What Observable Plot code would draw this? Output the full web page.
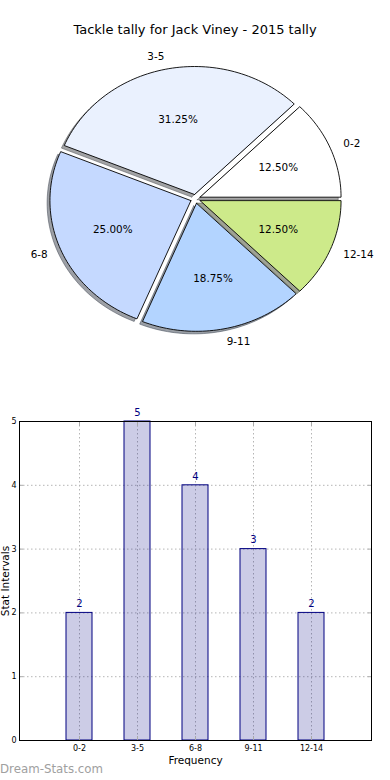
<!DOCTYPE html>
<html>
<head>
<meta charset="utf-8">
<script src="https://cdn.jsdelivr.net/npm/d3@7"></script>
<script src="https://cdn.jsdelivr.net/npm/@observablehq/plot@0.6"></script>
<style>
  html, body { margin: 0; padding: 0; background: #fff; }
  #wrap { position: relative; width: 390px; height: 780px; overflow: hidden; font-family: "DejaVu Sans", sans-serif; }
  #title { position: absolute; left: 0; top: 22px; width: 390px; text-align: center; font-size: 13px; line-height: 16px; color: #000; }
  #pie { position: absolute; left: 0; top: 0; }
  #bars { position: absolute; left: 0; top: 400px; }
  #mark { position: absolute; left: 0; top: 762px; font-size: 11.8px; line-height: 15px; color: #a0a0a0; }
  svg { overflow: visible; font-family: "DejaVu Sans", sans-serif; }
</style>
</head>
<body>
<div id="wrap">
  <div id="pie"></div>
  <div id="bars"></div>
  <div id="title">Tackle tally for Jack Viney - 2015 tally</div>
  <div id="mark">Dream-Stats.com</div>
</div>
<script>
// ---- data ----
const titleText = "Tackle tally for Jack Viney - 2015 tally";
const categories = ["0-2", "3-5", "6-8", "9-11", "12-14"];
const counts = [2, 5, 4, 3, 2];
const sliceColors = ["#ffffff", "#eaf1fe", "#c5d9ff", "#b3d4ff", "#cdea8a"];
const explodeBy = [0.035, 0.035, 0.035, 0.035, 0.035];
const yTicks = [0, 1, 2, 3, 4, 5];
const xLabel = "Frequency";
const yLabel = "Stat Intervals";

// ---- pie geometry (matplotlib style: start at 0 rad, counter-clockwise) ----
const total = d3.sum(counts);
let acc = 0;
const slices = counts.map((v, i) => {
  const a0 = acc / total * 2 * Math.PI;
  acc += v;
  const a1 = acc / total * 2 * Math.PI;
  const mid = (a0 + a1) / 2;
  const ex = explodeBy[i] * Math.cos(mid), ey = explodeBy[i] * Math.sin(mid);
  const n = Math.max(8, Math.ceil((a1 - a0) / (2 * Math.PI) * 240));
  const pts = [{x: ex, y: ey}];
  for (let k = 0; k <= n; k++) {
    const t = a0 + (a1 - a0) * k / n;
    pts.push({x: ex + Math.cos(t), y: ey + Math.sin(t)});
  }
  pts.push({x: ex, y: ey});
  const pct = (v / total * 100).toFixed(2) + "%";
  return {
    label: categories[i], color: sliceColors[i], pts,
    lx: ex + 1.1 * Math.cos(mid), ly: ey + 1.1 * Math.sin(mid),
    px: ex + 0.6 * Math.cos(mid), py: ey + 0.6 * Math.sin(mid), pct
  };
});
const shadowOff = 0.02;
const darker = c => { const r = d3.rgb(c); return d3.rgb(r.r * 0.3, r.g * 0.3, r.b * 0.3).formatHex(); };

const pieMarks = [];
slices.forEach(s => {
  pieMarks.push(Plot.line(s.pts.map(p => ({x: p.x - shadowOff, y: p.y - shadowOff})), {
    x: "x", y: "y", fill: darker(s.color), fillOpacity: 0.5, stroke: darker(s.color), strokeOpacity: 0.5, strokeWidth: 1, curve: "linear"
  }));
});
slices.forEach(s => {
  pieMarks.push(Plot.line(s.pts, {x: "x", y: "y", fill: s.color, stroke: "#000", strokeWidth: 0.9, curve: "linear"}));
});
pieMarks.push(Plot.text(slices.filter(s => s.lx > 0), {x: "lx", y: "ly", text: "label", textAnchor: "start", fontSize: 10.4, fill: "#000"}));
pieMarks.push(Plot.text(slices.filter(s => s.lx <= 0), {x: "lx", y: "ly", text: "label", textAnchor: "end", fontSize: 10.4, fill: "#000"}));
pieMarks.push(Plot.text(slices, {x: "px", y: "py", text: "pct", textAnchor: "middle", fontSize: 10.4, fill: "#000"}));

const pie = Plot.plot({
  width: 390, height: 380,
  margin: 0,
  x: {domain: [-1, 1], range: [195 - 141, 195 + 141], axis: null},
  y: {domain: [-1, 1], range: [198.4 + 128, 198.4 - 128], axis: null},
  marks: pieMarks
});
document.getElementById("pie").appendChild(pie);

// ---- bar chart ----
const barData = categories.map((c, i) => ({cat: c, val: counts[i]}));
const noText = () => "";
const bars = Plot.plot({
  width: 390, height: 380,
  marginTop: 21, marginBottom: 40, marginLeft: 19, marginRight: 19,
  x: {type: "band", domain: categories, paddingInner: 0.55, paddingOuter: 0.775, label: null},
  y: {domain: [0, 5], label: null},
  marks: [
    Plot.gridX({stroke: "#b5b5b5", strokeOpacity: 1, strokeDasharray: "1.5,2.5", strokeWidth: 1}),
    Plot.gridY({ticks: yTicks, stroke: "#b5b5b5", strokeOpacity: 1, strokeDasharray: "1.5,2.5", strokeWidth: 1}),
    Plot.barY(barData, {x: "cat", y: "val", fill: "navy", fillOpacity: 0.2, stroke: "navy", strokeWidth: 1}),
    Plot.text(barData, {x: "cat", y: "val", text: d => String(d.val), dy: -9, fill: "navy", fontSize: 10}),
    Plot.axisX({anchor: "top", tickSize: -4, tickFormat: noText, stroke: "#aaa", label: null}),
    Plot.axisX({anchor: "bottom", tickSize: -4, tickFormat: noText, stroke: "#aaa", label: null}),
    Plot.axisY({anchor: "right", ticks: yTicks, tickSize: -4, tickFormat: noText, stroke: "#aaa", label: null}),
    Plot.axisY({anchor: "left", ticks: yTicks, tickSize: -4, tickFormat: noText, stroke: "#aaa", label: null}),
    Plot.frame({stroke: "#000", strokeWidth: 1}),
    Plot.axisX({tickSize: 0, tickPadding: 5, fontSize: 8, label: null}),
    Plot.axisY({ticks: yTicks, tickFormat: "d", tickSize: 0, tickPadding: 3, fontSize: 8, label: null}),
    Plot.text([xLabel], {frameAnchor: "bottom", lineAnchor: "middle", text: d => d, dy: 20.5, fontSize: 10.5, fill: "#000"}),
    Plot.text([yLabel], {frameAnchor: "left", textAnchor: "middle", lineAnchor: "middle", text: d => d, rotate: -90, dx: -14, fontSize: 10.5, fill: "#000"})
  ]
});
document.getElementById("bars").appendChild(bars);
</script>
</body>
</html>
